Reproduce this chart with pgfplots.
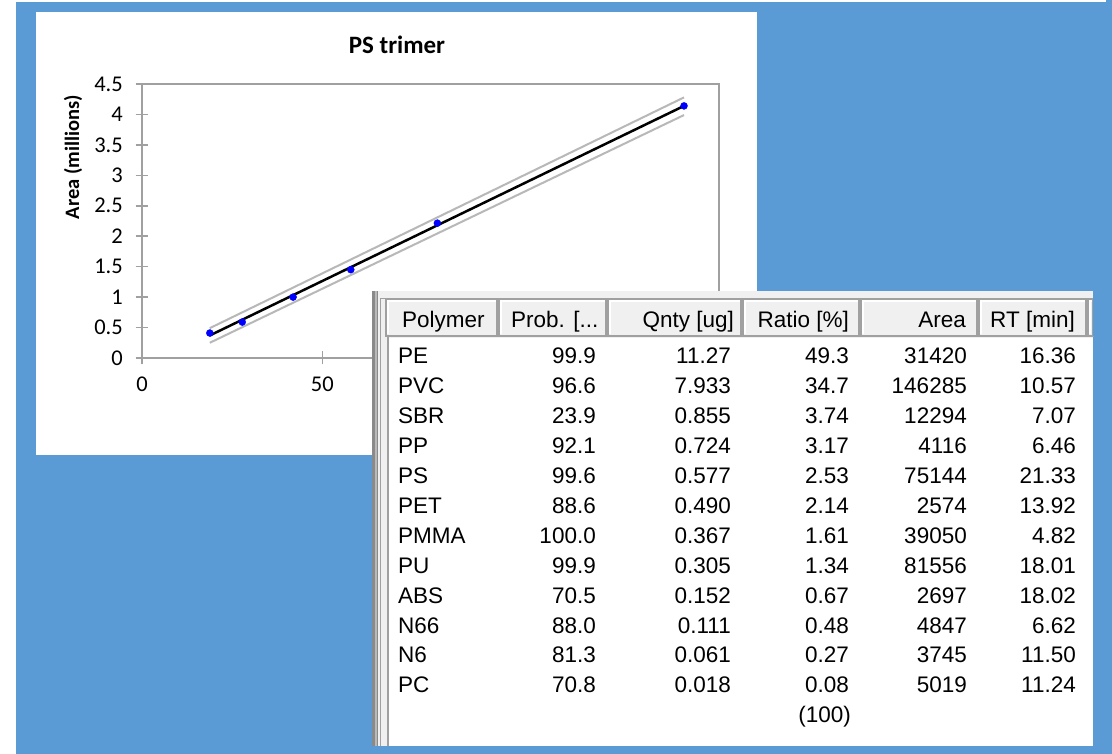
\documentclass[border=0pt]{standalone}
\usepackage{pgfplots}
\pgfplotsset{compat=1.18}
\usepackage{fontspec}
\setmainfont{Carlito}
\newfontfamily\tabfont{Liberation Sans}
\definecolor{bgblue}{HTML}{5B9BD5}
\definecolor{axgray}{HTML}{A0A0A0}
\definecolor{bandgray}{HTML}{B8B8B8}
\definecolor{winbg}{HTML}{F0F0F0}
\definecolor{winframe}{HTML}{A0A0A0}
\definecolor{bardark}{HTML}{8A8A8A}
\definecolor{ptblue}{HTML}{0000FF}
\begin{document}
\begin{tikzpicture}
\begin{scope}[x=1pt,y=1pt]
\path[use as bounding box] (0,0) rectangle (1112,754);
\fill[white] (0,0) rectangle (1112,754);
\fill[bgblue] (16,0) rectangle (1112,754);
\fill[white] (16,751.5) rectangle (1106,754);
% chart panel
\fill[white] (36,299) rectangle (757,742);
\node[font=\fontsize{25}{30}\selectfont\bfseries] at (397,709) {PS trimer};
\node[font=\fontsize{20.5}{24}\selectfont\bfseries, rotate=90] at (73,597) {Area (millions)};
\end{scope}
\begin{axis}[
  at={(142pt,396pt)}, anchor=south west, scale only axis,
  width=577pt, height=274pt,
  xmin=0, xmax=160, ymin=0, ymax=4.5,
  xtick={0,50,100,150},
  ytick={0,0.5,1,1.5,2,2.5,3,3.5,4,4.5},
  tick pos=left, tick align=center, major tick length=13pt,
  axis line style={axgray, line width=1.5pt},
  every tick/.style={axgray, line width=1.5pt},
  /pgf/number format/assume math mode=true,
  xticklabel={\pgfmathprintnumber{\tick}},
  yticklabel={\pgfmathprintnumber{\tick}},
  ticklabel style={font=\fontsize{22.5}{26}\selectfont, text=black},
  yticklabel style={anchor=east, inner sep=0pt, xshift=-12.5pt},
  xticklabel style={anchor=north, inner sep=0pt, yshift=-12pt},
  clip=false,
]
\addplot[bandgray, line width=2pt] coordinates {(18.8,0.49) (150.3,4.28)};
\addplot[bandgray, line width=2pt] coordinates {(18.8,0.25) (150.3,3.99)};
\addplot[black, line width=2.5pt] coordinates {(18.8,0.37) (150.3,4.14)};
\addplot[only marks, mark=*, mark size=3.5pt, ptblue, mark options={draw=ptblue, fill=ptblue}]
  coordinates {(18.8,0.41) (27.8,0.59) (41.9,1.00) (57.9,1.45) (81.9,2.215) (150.3,4.14)};
\end{axis}
\begin{scope}[x=1pt,y=1pt]
% table window
\fill[winbg] (372,8) rectangle (1093,463);
\fill[bardark] (372,8) rectangle (378,463);
\fill[gray!55] (374.5,8) rectangle (376.5,463);
\draw[winframe, line width=1.5pt] (380.5,8) -- (380.5,455.5) -- (1093,455.5);
\fill[white] (389,8) rectangle (1093,416);
\draw[winframe, line width=2pt] (387.5,8) -- (387.5,418);
\foreach \xa/\xb in {386/497, 499/606, 608/741, 743/859, 861/977, 979/1086, 1088/1093}{
  \fill[winbg] (\xa,418) rectangle (\xb,455);
  \draw[winframe, line width=1.5pt] (\xa,418) rectangle (\xb,455);
  \draw[white, line width=1.2pt] (\xa+2,419.5) -- (\xa+2,453) -- (\xb-1,453);
}
\fill[bgblue] (1093,418) rectangle (1112,463);
\begin{scope}[every node/.style={inner sep=0pt, font=\tabfont\fontsize{22.5}{27}\selectfont}]
\node[anchor=base west] at (402,426) {Polymer};
\node[anchor=base west] at (511,426) {Prob. [...};
\node[anchor=base east] at (734,426) {Qnty [ug]};
\node[anchor=base east] at (849,426) {Ratio [\%]};
\node[anchor=base east] at (966,426) {Area};
\node[anchor=base east] at (1075,426) {RT [min]};
\foreach \n/\p/\q/\r/\a/\t [count=\i from 0] in {
  PE/99.9/11.27/49.3/31420/16.36,
  PVC/96.6/7.933/34.7/146285/10.57,
  SBR/23.9/0.855/3.74/12294/7.07,
  PP/92.1/0.724/3.17/4116/6.46,
  PS/99.6/0.577/2.53/75144/21.33,
  PET/88.6/0.490/2.14/2574/13.92,
  PMMA/100.0/0.367/1.61/39050/4.82,
  PU/99.9/0.305/1.34/81556/18.01,
  ABS/70.5/0.152/0.67/2697/18.02,
  N66/88.0/0.111/0.48/4847/6.62,
  N6/81.3/0.061/0.27/3745/11.50,
  PC/70.8/0.018/0.08/5019/11.24}{
  \pgfmathsetmacro\yy{390-29.9*\i}
  \node[anchor=base west] at (398,\yy) {\n};
  \node[anchor=base east] at (596,\yy) {\p};
  \node[anchor=base east] at (731,\yy) {\q};
  \node[anchor=base east] at (849,\yy) {\r};
  \node[anchor=base east] at (967,\yy) {\a};
  \node[anchor=base east] at (1076,\yy) {\t};
}
\node[anchor=base east] at (851,31.2) {(100)};
\end{scope}
\end{scope}
\end{tikzpicture}
\end{document}
